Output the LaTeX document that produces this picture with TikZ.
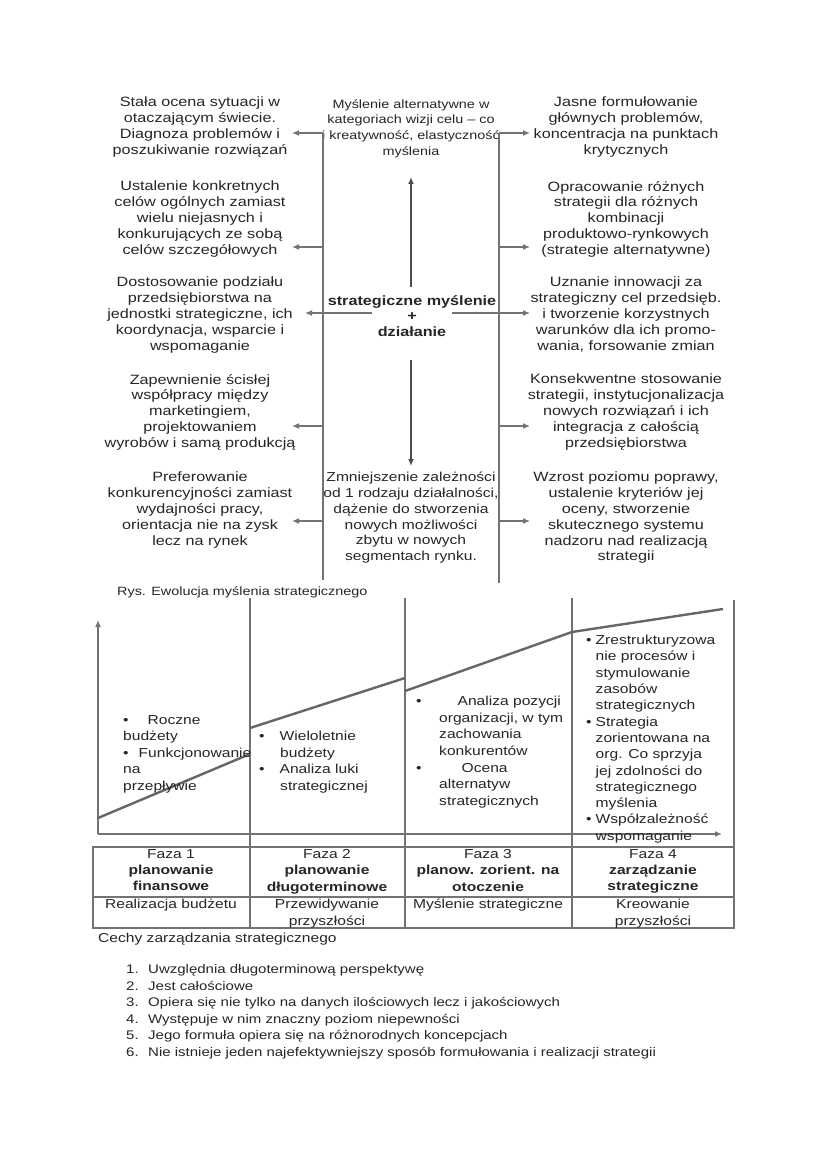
\documentclass[tikz,border=0pt]{standalone}
\usepackage{fontspec}
\setmainfont{Liberation Sans}[FakeStretch=1.2]
\usetikzlibrary{arrows.meta}
\begin{document}
\begin{tikzpicture}[x=1pt,y=-1pt,
  txt/.style={font=\fontsize{13.5}{15.8}\selectfont, align=center, inner sep=0pt, anchor=north, text=black!85},
  txtb/.style={txt, font=\fontsize{13.5}{15.8}\selectfont\bfseries},
  ctxt/.style={font=\fontsize{13}{16.6}\selectfont, align=left, inner sep=0pt, anchor=north west, text=black!85},
  ttxt/.style={font=\fontsize{13}{16.4}\selectfont, align=center, inner sep=0pt, anchor=north, text=black!85},
  ln/.style={draw=black!55, line width=1.3pt},
  arr/.style={ln, -{Latex[length=7pt,width=6pt]}},
  carr/.style={draw=black!70, line width=1.8pt, -{Latex[length=7pt,width=6pt]}},
  axis/.style={draw=black!55, line width=2pt},
  curve/.style={draw=black!60, line width=2.4pt},
  plain/.style={font=\fontsize{13}{16}\selectfont, inner sep=0pt, text=black!85}
]
\useasboundingbox (0,0) rectangle (826,1169);
\fill[white] (0,0) rectangle (826,1169);

% ---------- upper diagram ----------
\node[txt] (tl) at (200,97) {Stała ocena sytuacji w\\otaczającym świecie.\\Diagnoza problemów i\\poszukiwanie rozwiązań};
\node[txt, font=\fontsize{12}{15.8}\selectfont] (tc) at (411,99) {Myślenie alternatywne w\\kategoriach wizji celu – co\\i kreatywność, elastyczność\\myślenia};
\node[txt] (tr) at (626,97) {Jasne formułowanie\\głównych problemów,\\koncentracja na punktach\\krytycznych};

\node[txt] (l2) at (200,181) {Ustalenie konkretnych\\celów ogólnych zamiast\\wielu niejasnych i\\konkurujących ze sobą\\celów szczegółowych};
\node[txt] (r2) at (626,181) {Opracowanie różnych\\strategii dla różnych\\kombinacji\\produktowo-rynkowych\\(strategie alternatywne)};

\node[txtb] (core) at (412,295) {strategiczne myślenie\\+\\działanie};

\node[txt] (l3) at (200,277) {Dostosowanie podziału\\przedsiębiorstwa na\\jednostki strategiczne, ich\\koordynacja, wsparcie i\\wspomaganie};
\node[txt] (r3) at (626,277) {Uznanie innowacji za\\strategiczny cel przedsięb.\\i tworzenie korzystnych\\warunków dla ich promo-\\wania, forsowanie zmian};

\node[txt] (l4) at (200,374) {Zapewnienie ścisłej\\współpracy między\\marketingiem,\\projektowaniem\\wyrobów i samą produkcją};
\node[txt] (r4) at (626,374) {Konsekwentne stosowanie\\strategii, instytucjonalizacja\\nowych rozwiązań i ich\\integracja z całością\\przedsiębiorstwa};

\node[txt] (l5) at (200,472) {Preferowanie\\konkurencyjności zamiast\\wydajności pracy,\\orientacja nie na zysk\\lecz na rynek};
\node[txt, font=\fontsize{13}{15.8}\selectfont] (c5) at (411,472) {Zmniejszenie zależności\\od 1 rodzaju działalności,\\dążenie do stworzenia\\nowych możliwości\\zbytu w nowych\\segmentach rynku.};
\node[txt] (r5) at (626,472) {Wzrost poziomu poprawy,\\ustalenie kryteriów jej\\oceny, stworzenie\\skutecznego systemu\\nadzoru nad realizacją\\strategii};

% vertical frame lines
\coordinate (vl1) at (323,133); \coordinate (vl6) at (323,580);
\coordinate (vr1) at (499,133); \coordinate (vr6) at (499,583);
\draw[ln] (vl1) -- (vl6);
\draw[ln] (vr1) -- (vr6);

% side arrows
\coordinate (al1) at (292,133); \coordinate (ar1) at (530,133);
\draw[arr] (vl1) -- (al1); \draw[arr] (vr1) -- (ar1);
\coordinate (vl2) at (323,247); \coordinate (al2) at (292,247);
\coordinate (vr2) at (499,247); \coordinate (ar2) at (530,247);
\draw[arr] (vl2) -- (al2); \draw[arr] (vr2) -- (ar2);
\coordinate (cl3) at (372,313); \coordinate (al3) at (305,313);
\coordinate (cr3) at (452,313); \coordinate (ar3) at (530,313);
\draw[arr] (cl3) -- (al3); \draw[arr] (cr3) -- (ar3);
\coordinate (vl4) at (323,426); \coordinate (al4) at (292,426);
\coordinate (vr4) at (499,426); \coordinate (ar4) at (530,426);
\draw[arr] (vl4) -- (al4); \draw[arr] (vr4) -- (ar4);
\coordinate (vl5) at (323,521); \coordinate (al5) at (292,521);
\coordinate (vr5) at (499,521); \coordinate (ar5) at (530,521);
\draw[arr] (vl5) -- (al5); \draw[arr] (vr5) -- (ar5);

% centre arrows
\coordinate (up0) at (411,287); \coordinate (up1) at (411,177);
\coordinate (dn0) at (411,360); \coordinate (dn1) at (411,466);
\draw[carr] (up0) -- (up1);
\draw[carr] (dn0) -- (dn1);

\node[plain, anchor=west, font=\fontsize{12}{15}\selectfont] (cap) at (117,592) {Rys. Ewolucja myślenia strategicznego};

% ---------- chart ----------
\coordinate (o) at (98,834); \coordinate (ytip) at (98,620); \coordinate (xtip) at (722,834);
\draw[axis, -{Latex[length=7pt,width=6pt]}] (o) -- (ytip);
\draw[axis, -{Latex[length=7pt,width=6pt]}] (o) -- (xtip);

\coordinate (p1t) at (250,598); \coordinate (p1b) at (250,928);
\coordinate (p2t) at (405,598); \coordinate (p2b) at (405,928);
\coordinate (p3t) at (572,598); \coordinate (p3b) at (572,928);
\coordinate (p4t) at (734,600); \coordinate (p4b) at (734,928);
\draw[ln, line width=1.6pt] (p1t) -- (p1b);
\draw[ln, line width=1.6pt] (p2t) -- (p2b);
\draw[ln, line width=1.6pt] (p3t) -- (p3b);
\draw[ln, line width=1.6pt] (p4t) -- (p4b);

\coordinate (s1a) at (98,818); \coordinate (s1b) at (250,754);
\coordinate (s2a) at (250,728); \coordinate (s2b) at (405,678);
\coordinate (s3a) at (405,691); \coordinate (s3b) at (572,632);
\coordinate (s4b) at (723,609);
\draw[curve] (s1a) -- (s1b);
\draw[curve] (s2a) -- (s2b);
\draw[curve] (s3a) -- (s3b) -- (s4b);

\node[ctxt] (f1) at (123,715) {\textbullet\hspace*{19pt}Roczne\\budżety\\\textbullet\hspace*{10pt}Funkcjonowanie\\na\\przepływie};
\node[ctxt] (f2) at (259,731) {\textbullet\hspace*{15pt}Wieloletnie\\\hspace*{21pt}budżety\\\textbullet\hspace*{15pt}Analiza luki\\\hspace*{21pt}strategicznej};
\node[ctxt] (f3) at (416,696) {\textbullet\hspace*{36pt}Analiza pozycji\\\hspace*{23pt}organizacji, w tym\\\hspace*{23pt}zachowania\\\hspace*{23pt}konkurentów\\\textbullet\hspace*{40pt}Ocena\\\hspace*{23pt}alternatyw\\\hspace*{23pt}strategicznych};
\node[ctxt, font=\fontsize{13}{16.3}\selectfont] (f4) at (586,635) {\textbullet\hspace*{4pt}Zrestrukturyzowa\\\hspace*{9.5pt}nie procesów i\\\hspace*{9.5pt}stymulowanie\\\hspace*{9.5pt}zasobów\\\hspace*{9.5pt}strategicznych\\\textbullet\hspace*{4pt}Strategia\\\hspace*{9.5pt}zorientowana na\\\hspace*{9.5pt}org. Co sprzyja\\\hspace*{9.5pt}jej zdolności do\\\hspace*{9.5pt}strategicznego\\\hspace*{9.5pt}myślenia\\\textbullet\hspace*{4pt}Współzależność\\\hspace*{9.5pt}wspomaganie};

% ---------- table ----------
\coordinate (tbl1) at (93,847); \coordinate (tbl2) at (734,928);
\draw[ln] (tbl1) rectangle (tbl2);
\coordinate (rw1) at (93,897); \coordinate (rw2) at (734,897);
\draw[ln] (rw1) -- (rw2);

\node[ttxt] (h1) at (171,849) {Faza 1\\\textbf{planowanie}\\\textbf{finansowe}};
\node[ttxt] (h2) at (327,849) {Faza 2\\\textbf{planowanie}\\\textbf{długoterminowe}};
\node[ttxt] (h3) at (488,849) {Faza 3\\\textbf{planow. zorient. na}\\\textbf{otoczenie}};
\node[ttxt] (h4) at (653,849) {Faza 4\\\textbf{zarządzanie}\\\textbf{strategiczne}};
\node[ttxt] (d1) at (171,899) {Realizacja budżetu};
\node[ttxt] (d2) at (327,899) {Przewidywanie\\przyszłości};
\node[ttxt] (d3) at (488,899) {Myślenie strategiczne};
\node[ttxt] (d4) at (653,899) {Kreowanie\\przyszłości};

\node[plain, anchor=west] (cechy) at (98,939) {Cechy zarządzania strategicznego};

% ---------- list ----------
\foreach \i/\t [count=\k from 0] in {1/Uwzględnia długoterminową perspektywę,
  2/Jest całościowe,
  3/Opiera się nie tylko na danych ilościowych lecz i jakościowych,
  4/Występuje w nim znaczny poziom niepewności,
  5/Jego formuła opiera się na różnorodnych koncepcjach,
  6/Nie istnieje jeden najefektywniejszy sposób formułowania i realizacji strategii}{
  \node[plain, anchor=base west, font=\fontsize{12.5}{15}\selectfont] (n\i) at (126,973.5+16.5*\k) {\i.};
  \node[plain, anchor=base west, font=\fontsize{12.5}{15}\selectfont] (it\i) at (148,973.5+16.5*\k) {\t};
}
\end{tikzpicture}
\end{document}
